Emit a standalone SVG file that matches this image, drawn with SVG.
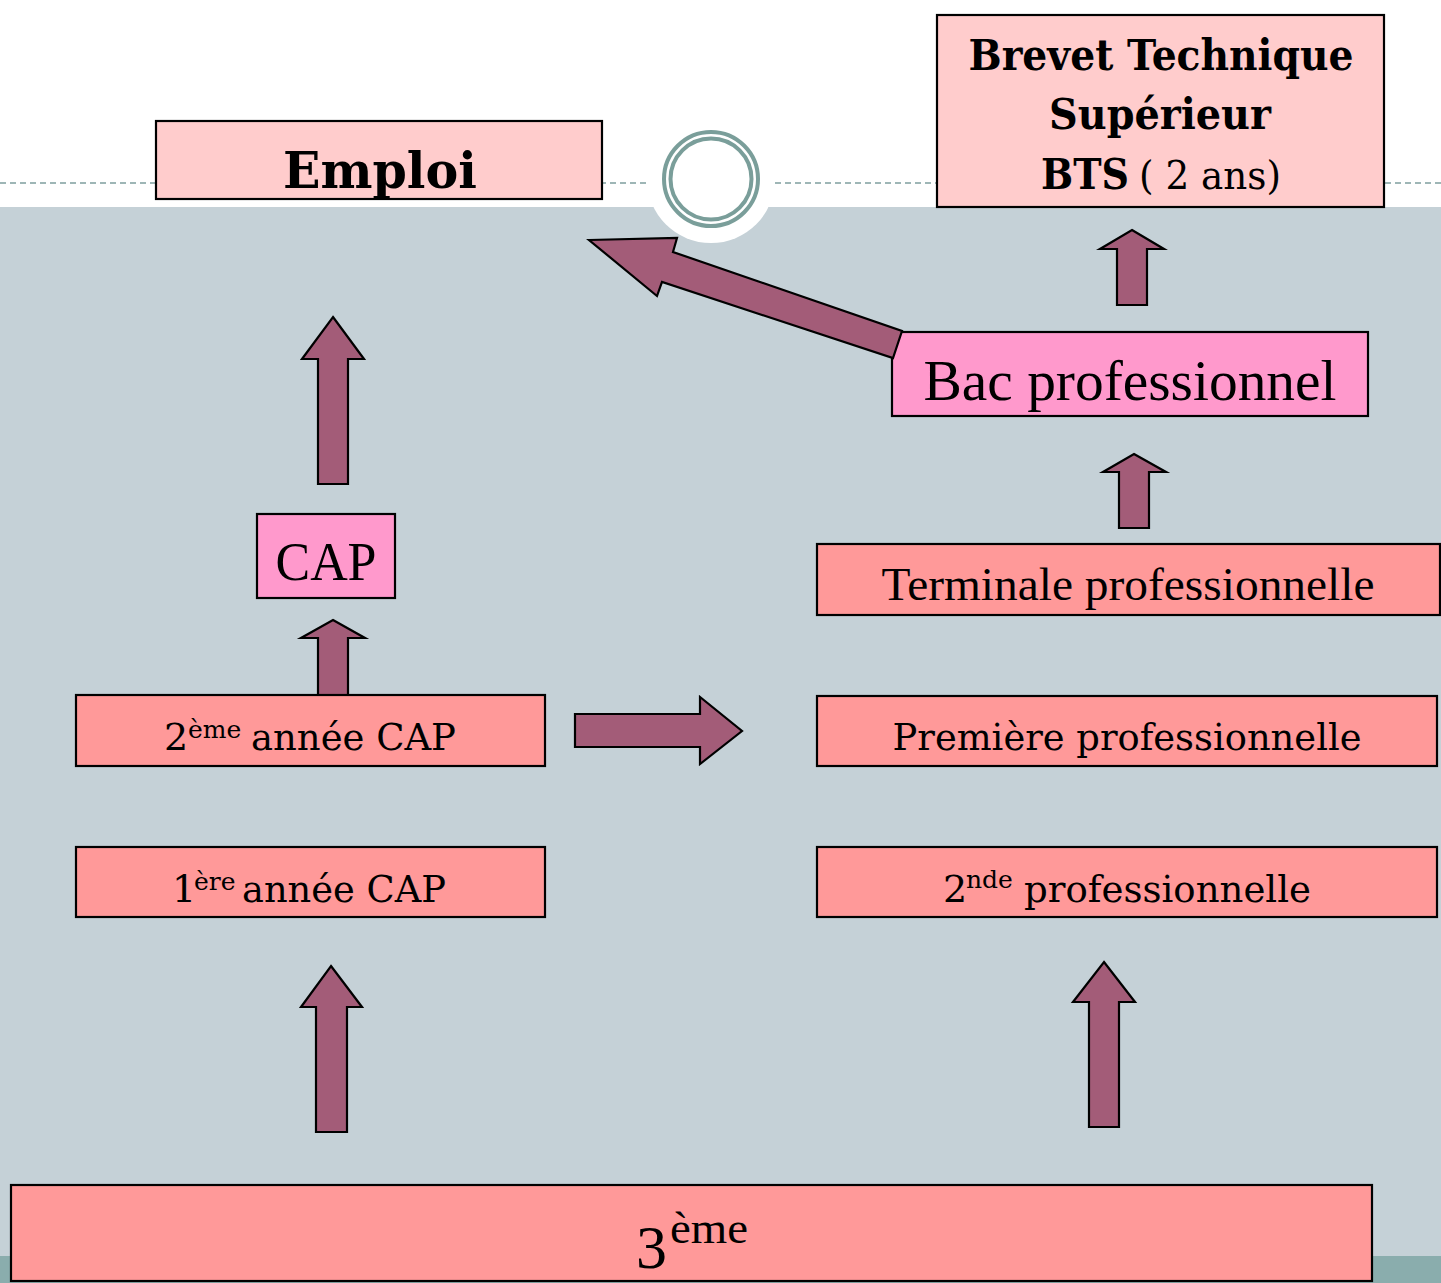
<svg xmlns="http://www.w3.org/2000/svg" width="1441" height="1283" viewBox="0 0 1441 1283">
<style>
.box{stroke:#000;stroke-width:2.2}
.lp{fill:#FFCCCC}
.pk{fill:#FF99CC}
.sa{fill:#FF9999}
.arr{fill:#A35C78;stroke:#000;stroke-width:2.2;stroke-linejoin:miter}
.g{font-family:"DejaVu Serif","Liberation Serif",serif;fill:#000}
.t{font-family:"Liberation Serif","DejaVu Serif",serif;fill:#000}
</style>
<rect x="0" y="0" width="1441" height="1283" fill="#FFFFFF"/>
<rect x="0" y="207" width="1441" height="1076" fill="#C5D1D7"/>
<rect x="0" y="1256" width="1441" height="27" fill="#8AADAD"/>
<line x1="0" y1="183" x2="650" y2="183" stroke="#7F9E9E" stroke-width="1.6" stroke-dasharray="6,4"/>
<line x1="775" y1="183" x2="1441" y2="183" stroke="#7F9E9E" stroke-width="1.6" stroke-dasharray="6,4"/>
<circle cx="711" cy="179" r="64" fill="#FFFFFF"/>
<circle cx="711" cy="179" r="47" fill="none" stroke="#7A9E9A" stroke-width="4"/>
<circle cx="711" cy="179" r="40.5" fill="none" stroke="#7A9E9A" stroke-width="4"/>

<g id="connectors">
<polygon class="arr" points="333,317 364,359 348,359 348,484 318,484 318,359 302,359"/>
<polygon class="arr" points="333,620 365,638 348,638 348,695 318,695 318,638 301,638"/>
<polygon class="arr" points="331,966 362,1007 347,1007 347,1132 316,1132 316,1007 301,1007"/>
<polygon class="arr" points="1104,962 1135,1002 1119,1002 1119,1127 1089,1127 1089,1002 1073,1002"/>
<polygon class="arr" points="1134,454 1166,472 1149,472 1149,528 1119,528 1119,472 1103,472"/>
<polygon class="arr" points="1132,230 1164,249 1147,249 1147,305 1117,305 1117,249 1100,249"/>
<polygon class="arr" points="575,714 700,714 700,697 742,731 700,764 700,747 575,747"/>
</g>

<g id="emploi">
<rect class="box lp" x="156" y="121" width="446" height="78"/>
<text class="g" x="380" y="188" font-size="50" font-weight="bold" text-anchor="middle" textLength="194" lengthAdjust="spacingAndGlyphs">Emploi</text>
</g>

<g id="bts">
<rect class="box lp" x="937" y="15" width="447" height="192"/>
<text class="g" x="1161" y="70" font-size="42" font-weight="bold" text-anchor="middle" textLength="385" lengthAdjust="spacingAndGlyphs">Brevet Technique</text>
<text class="g" x="1160" y="129" font-size="42" font-weight="bold" text-anchor="middle" textLength="222" lengthAdjust="spacingAndGlyphs">Supérieur</text>
<text class="g" y="189"><tspan x="1041" font-size="42" font-weight="bold" textLength="88" lengthAdjust="spacingAndGlyphs">BTS</tspan><tspan x="1139" font-size="40" textLength="142" lengthAdjust="spacingAndGlyphs">( 2 ans)</tspan></text>
</g>

<g id="bac">
<rect class="box pk" x="892" y="332" width="476" height="84"/>
<text class="t" x="1130" y="400" font-size="56" text-anchor="middle" textLength="413" lengthAdjust="spacingAndGlyphs">Bac professionnel</text>
</g>

<g id="diag-arrow">
<polygon class="arr" points="589,240 677,238 673,252 902,331 893,358 662,282 657,296"/>
</g>

<g id="cap">
<rect class="box pk" x="257" y="514" width="138" height="84"/>
<text class="t" x="326" y="580" font-size="54" text-anchor="middle" textLength="101" lengthAdjust="spacingAndGlyphs">CAP</text>
</g>

<g id="terminale">
<rect class="box sa" x="817" y="544" width="623" height="71"/>
<text class="t" x="1128" y="600" font-size="47" text-anchor="middle" textLength="493" lengthAdjust="spacingAndGlyphs">Terminale professionnelle</text>
</g>

<g id="premiere">
<rect class="box sa" x="817" y="696" width="620" height="70"/>
<text class="g" x="1127" y="750" font-size="38" text-anchor="middle" textLength="469" lengthAdjust="spacingAndGlyphs">Première professionnelle</text>
</g>

<g id="seconde">
<rect class="box sa" x="817" y="847" width="620" height="70"/>
<text class="g" font-size="38"><tspan x="943" y="902">2</tspan><tspan x="966" y="888" font-size="25">nde</tspan><tspan x="1024" y="902" textLength="287" lengthAdjust="spacingAndGlyphs">professionnelle</tspan></text>
</g>

<g id="cap2">
<rect class="box sa" x="76" y="695" width="469" height="71"/>
<text class="g" font-size="38"><tspan x="164" y="750">2</tspan><tspan x="188" y="738" font-size="25">ème</tspan><tspan x="251" y="750" textLength="205" lengthAdjust="spacingAndGlyphs">année CAP</tspan></text>
</g>

<g id="cap1">
<rect class="box sa" x="76" y="847" width="469" height="70"/>
<text class="g" font-size="38"><tspan x="172" y="902">1</tspan><tspan x="194" y="890" font-size="25">ère</tspan><tspan x="242" y="902" textLength="204" lengthAdjust="spacingAndGlyphs">année CAP</tspan></text>
</g>

<g id="troisieme">
<rect class="box sa" x="11" y="1185" width="1361" height="96"/>
<text class="t"><tspan x="636" y="1268" font-size="62">3</tspan><tspan x="670" y="1243" font-size="44" textLength="78" lengthAdjust="spacingAndGlyphs">ème</tspan></text>
</g>
</svg>
